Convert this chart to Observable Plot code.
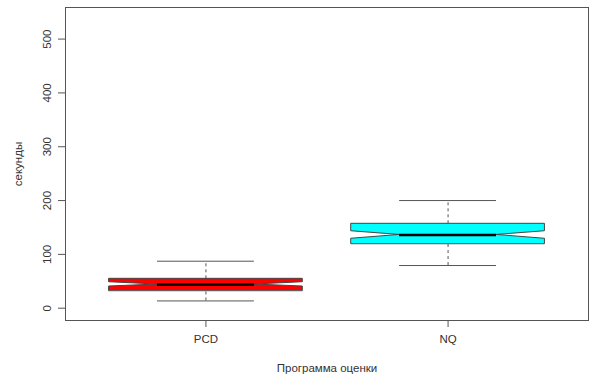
<!DOCTYPE html>
<html>
<head>
<meta charset="utf-8">
<script src="https://cdn.jsdelivr.net/npm/d3@7"></script>
<script src="https://cdn.jsdelivr.net/npm/@observablehq/plot@0.6"></script>
<style>
  html, body { margin: 0; padding: 0; background: #fff; }
  #chart svg { display: block; font-family: "Liberation Sans", Arial, sans-serif; }
</style>
</head>
<body>
<div id="chart"></div>
<script>
const categories = ["PCD", "NQ"];
const boxColors = ["#FF0000", "#00FFFF"];
const whiskerLow = [13.5, 79.3];
const q1 = [32.3, 119.6];
const notchLow = [40.3, 129.0];
const median = [44.0, 136.1];
const notchHigh = [48.3, 143.0];
const q3 = [54.6, 156.8];
const whiskerHigh = [87.3, 200.0];
const yTicks = [0, 100, 200, 300, 400, 500];

const halfBox = 0.4;
const stats = categories.map((c, i) => ({
  cat: c, pos: i + 1,
  lo: whiskerLow[i], q1: q1[i], nlo: notchLow[i], med: median[i],
  nhi: notchHigh[i], q3: q3[i], hi: whiskerHigh[i]
}));
const outline = stats.flatMap(s => [
  {cat: s.cat, pos: s.pos, y: s.q1, w: 1},
  {cat: s.cat, pos: s.pos, y: s.nlo, w: 1},
  {cat: s.cat, pos: s.pos, y: s.med, w: 0.5},
  {cat: s.cat, pos: s.pos, y: s.nhi, w: 1},
  {cat: s.cat, pos: s.pos, y: s.q3, w: 1}
]);

const chart = Plot.plot({
  width: 589,
  height: 376,
  marginLeft: 65,
  marginRight: 1,
  marginTop: 7,
  marginBottom: 56,
  style: {fontSize: "11.5px", color: "#333", fontFamily: "'Liberation Sans', Arial, sans-serif"},
  x: {domain: [0.42, 2.58]},
  y: {domain: [-22.85, 558.7]},
  color: {domain: categories, range: boxColors},
  marks: [
    Plot.ruleX(stats, {x: "pos", y1: "q3", y2: "hi", stroke: "#555", strokeDasharray: "3,3"}),
    Plot.ruleX(stats, {x: "pos", y1: "lo", y2: "q1", stroke: "#555", strokeDasharray: "3,3"}),
    Plot.ruleY(stats, {y: "hi", x1: d => d.pos - halfBox / 2, x2: d => d.pos + halfBox / 2, stroke: "#555"}),
    Plot.ruleY(stats, {y: "lo", x1: d => d.pos - halfBox / 2, x2: d => d.pos + halfBox / 2, stroke: "#555"}),
    Plot.areaX(outline, {
      y: "y",
      x1: d => d.pos - halfBox * d.w,
      x2: d => d.pos + halfBox * d.w,
      z: "cat",
      fill: "cat",
      stroke: "#444",
      strokeWidth: 1
    }),
    Plot.ruleY(stats, {y: "med", x1: d => d.pos - halfBox / 2, x2: d => d.pos + halfBox / 2, stroke: "#000", strokeWidth: 2.5}),
    Plot.frame({stroke: "#555"}),
    Plot.axisY({
      ticks: yTicks, tickSize: 7, tickRotate: -90, tickPadding: 8, stroke: "#555",
      label: "секунды", labelAnchor: "center", labelArrow: "none", labelOffset: 52
    }),
    Plot.axisX({
      ticks: [1, 2], tickFormat: d => categories[d - 1], tickSize: 7, tickPadding: 7, stroke: "#555",
      label: "Программа оценки", labelAnchor: "center", labelArrow: "none", labelOffset: 51
    })
  ]
});
document.getElementById("chart").appendChild(chart);
</script>
</body>
</html>
